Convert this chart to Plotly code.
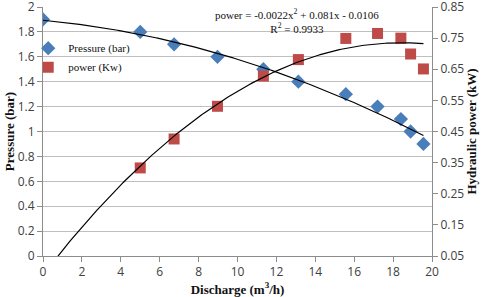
import numpy as np
import plotly.graph_objects as go

# ---- data ----
discharge = [0, 5.0, 6.74, 8.97, 11.33, 13.13, 15.57, 17.2, 18.4, 18.9, 19.56]
pressure = [1.90, 1.80, 1.70, 1.60, 1.50, 1.40, 1.30, 1.20, 1.10, 1.00, 0.90]
power_x = [5.0, 6.74, 8.97, 11.33, 13.13, 15.57, 17.2, 18.4, 18.9, 19.56]
power = [0.333, 0.426, 0.531, 0.628, 0.681, 0.749, 0.765, 0.750, 0.699, 0.651]

# power trendline coefficients as printed on the chart (x^2, x, const)
power_fit_coef = [-0.0022, 0.081, -0.0106]
power_r2 = 0.9933

x_ticks = [0, 2, 4, 6, 8, 10, 12, 14, 16, 18, 20]
y_ticks = [0, 0.2, 0.4, 0.6, 0.8, 1, 1.2, 1.4, 1.6, 1.8, 2]
y_ticktext = ["0", "0.2", "0.4", "0.6", "0.8", "1", "1.2", "1.4", "1.6", "1.8", "2"]
y2_ticks = [0.05, 0.15, 0.25, 0.35, 0.45, 0.55, 0.65, 0.75, 0.85]
y2_ticktext = ["0.05", "0.15", "0.25", "0.35", "0.45", "0.55", "0.65", "0.75", "0.85"]

eq_text = ("power = -0.0022x<sup>2</sup> + 0.081x - 0.0106<br>"
           "R<sup>2</sup> = 0.9933")

# ---- trendlines ----
p_fit = np.polyfit(discharge, pressure, 2)          # Excel-style 2nd-order fit
xs = np.linspace(0, max(discharge), 200)

BLUE = "#4A7EBB"
RED = "#BE4B48"
GRID = "#BFBFBF"
AXIS = "#8C8C8C"
TICKFONT = dict(family="Open Sans", size=12, color="#404040")
TITLEFONT = dict(family="Liberation Serif", size=13, color="#111111")

fig = go.Figure()
fig.add_trace(go.Scatter(x=discharge, y=pressure, mode="markers", name="Pressure (bar)",
                         marker=dict(symbol="diamond", size=11, color=BLUE)))
fig.add_trace(go.Scatter(x=power_x, y=power, mode="markers", name="power (Kw)", yaxis="y2",
                         marker=dict(symbol="square", size=11, color=RED)))
fig.add_trace(go.Scatter(x=xs, y=np.polyval(p_fit, xs), mode="lines", showlegend=False,
                         line=dict(color="black", width=1.2), hoverinfo="skip"))
fig.add_trace(go.Scatter(x=xs, y=np.polyval(power_fit_coef, xs), mode="lines", showlegend=False,
                         yaxis="y2", line=dict(color="black", width=1.2), hoverinfo="skip"))

fig.update_layout(
    width=484, height=297,
    margin=dict(l=43, r=52, t=7, b=41, autoexpand=False),
    paper_bgcolor="white", plot_bgcolor="white",
    xaxis=dict(range=[0, 20], tickvals=x_ticks, showgrid=False, zeroline=False, automargin=False,
               showline=True, linecolor=AXIS, linewidth=1,
               ticks="outside", ticklen=5, tickcolor=AXIS, tickfont=TICKFONT,
               title=dict(text="<b>Discharge (m<sup>3</sup>/h)</b>", font=TITLEFONT, standoff=2)),
    yaxis=dict(range=[0, 2], tickvals=y_ticks, ticktext=y_ticktext, showgrid=True,
               gridcolor=GRID, gridwidth=1, zeroline=False, automargin=False,
               ticklabeloverflow="allow",
               showline=True, linecolor=AXIS, linewidth=1,
               ticks="outside", ticklen=5, tickcolor=AXIS, tickfont=TICKFONT,
               title=dict(text="<b>Pressure (bar)</b>", font=TITLEFONT, standoff=0)),
    yaxis2=dict(range=[0.05, 0.85], tickvals=y2_ticks, ticktext=y2_ticktext,
                overlaying="y", side="right", showgrid=False, zeroline=False, automargin=False,
                ticklabeloverflow="allow",
                showline=True, linecolor=AXIS, linewidth=1,
                ticks="outside", ticklen=5, tickcolor=AXIS, tickfont=TICKFONT,
                title=dict(text="<b>Hydraulic power (kW)</b>", font=TITLEFONT, standoff=2)),
    legend=dict(x=-0.038, y=0.893, xanchor="left", yanchor="top",
                bgcolor="rgba(255,255,255,0)", font=dict(family="Liberation Serif", size=11, color="#111"),
                itemwidth=30, tracegroupgap=0),
    showlegend=True,
    annotations=[dict(text=eq_text, x=0.654, y=1.01, xref="paper", yref="paper",
                      xanchor="center", yanchor="top", showarrow=False, align="center",
                      font=dict(family="Liberation Serif", size=11, color="#111"))],
)

fig.write_html("out.html", config={"displayModeBar": False},
               post_script="document.body.style.margin='0';document.body.style.padding='0';")
